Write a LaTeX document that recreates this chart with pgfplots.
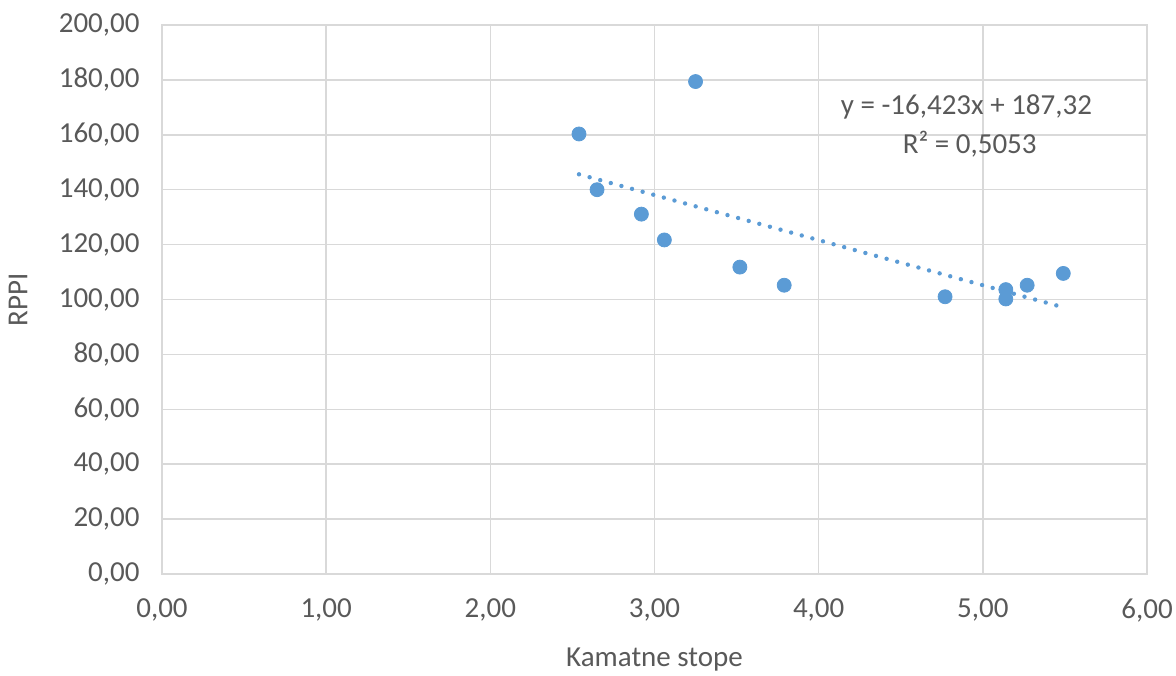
\documentclass[border=0pt]{standalone}
\usepackage{fontspec}
\setmainfont{Carlito}
\usepackage{pgfplots}
\pgfplotsset{compat=1.18}

\definecolor{txt}{HTML}{595959}
\definecolor{gridc}{HTML}{D9D9D9}
\definecolor{ptc}{HTML}{5B9BD5}

\begin{document}
\begin{tikzpicture}
\begin{axis}[
    scale only axis,
    width=492.5pt, height=274.5pt,
    xmin=0, xmax=6,
    ymin=0, ymax=200,
    xtick={0,1,...,6},
    ytick={0,20,...,200},
    major tick length=0pt,
    grid=major,
    grid style={gridc, line width=0.75pt},
    axis line style={gridc, line width=0.75pt},
    font=\fontsize{14.5}{17}\selectfont,
    every tick label/.append style={txt},
    xticklabel style={yshift=-9pt},
    yticklabel style={xshift=-7.7pt},
    /pgf/number format/.cd, fixed, fixed zerofill, precision=2, use comma, assume math mode=true,
    /pgfplots/.cd,
    xlabel={Kamatne stope},
    ylabel={RPPI},
    xlabel style={txt, at={(axis description cs:0.5,-0.1566)}, anchor=center},
    ylabel style={txt, at={(axis description cs:-0.1462,0.5)}, anchor=center},
]
% data points
\addplot[only marks, mark=*, mark size=3.5pt, color=ptc] coordinates {
    (2.54,160.3) (2.65,140.0) (2.92,131.1) (3.06,121.7) (3.25,179.4)
    (3.52,111.8) (3.79,105.2) (4.77,101.0) (5.14,103.6) (5.14,100.2)
    (5.27,105.2) (5.49,109.5)
};
% linear trendline
\addplot[ptc, line width=2.2pt, line cap=round, dash pattern=on 0pt off 5.5pt] coordinates {
    (2.54,145.61) (5.45,97.81)
};
\node[txt, font=\fontsize{14.5}{17}\selectfont] at (axis cs:4.90,170) {y = -16,423x + 187,32};
\node[txt, font=\fontsize{14.5}{17}\selectfont] at (axis cs:4.92,156.7) {R² = 0,5053};
\end{axis}
\pgfresetboundingbox
\useasboundingbox (-81pt,-50.5pt) rectangle (507pt,287pt);
\end{tikzpicture}
\end{document}
